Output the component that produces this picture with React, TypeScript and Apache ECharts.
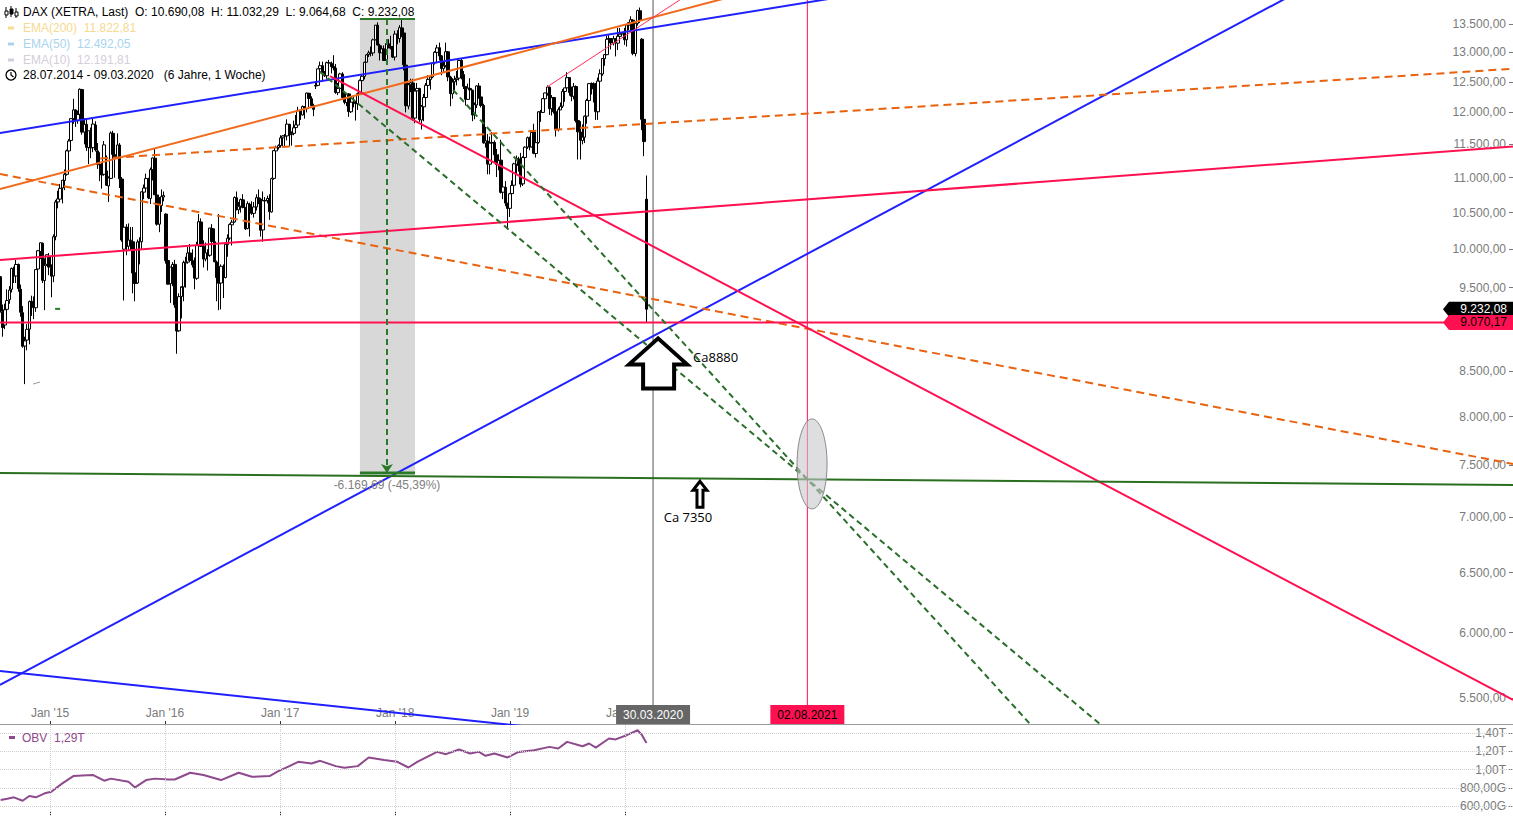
import React, { useEffect, useRef } from "react";
import * as echarts from "echarts";

type Row = [number, number, number, number]; // open, high, low, close (weekly)

const FIRST_WEEK = "2014-07-28";

const dax2014: Row[] = [
  [9640, 9650, 9190, 9210], [9200, 9290, 8900, 9009], [9040, 9300, 8990, 9225], [9230, 9480, 9160, 9340],
  [9350, 9520, 9300, 9470], [9480, 9760, 9440, 9747], [9740, 9770, 9560, 9651], [9650, 9860, 9560, 9799],
  [9800, 9810, 9450, 9490], [9480, 9540, 9140, 9195], [9190, 9270, 8770, 8788], [8790, 8900, 8355, 8850],
  [8860, 9050, 8740, 8988], [8990, 9340, 8810, 9326], [9330, 9400, 9150, 9291], [9290, 9390, 9110, 9252],
  [9250, 9740, 9200, 9732], [9740, 9990, 9700, 9980], [9970, 10090, 9870, 10087], [10080, 10090, 9560, 9594],
  [9590, 9880, 9220, 9787], [9800, 9930, 9780, 9927], [9900, 9950, 9660, 9765],
];
const dax2015: Row[] = [
  [9760, 9800, 9380, 9648], [9650, 10200, 9570, 10167], [10170, 10680, 10120, 10649], [10650, 10810, 10560, 10694],
  [10690, 10910, 10660, 10846], [10850, 10970, 10630, 10963], [10960, 11120, 10820, 11050], [11050, 11420, 11030, 11401],
  [11400, 11580, 11250, 11551], [11560, 11910, 11500, 11901], [11900, 12220, 11820, 12040], [12040, 12050, 11770, 11868],
  [11870, 12030, 11820, 11967], [11970, 12390, 11920, 12375], [12370, 12380, 11650, 11689], [11690, 11910, 11500, 11811],
  [11810, 11900, 11400, 11454], [11450, 11710, 11200, 11709], [11700, 11760, 11290, 11447], [11450, 11900, 11380, 11815],
  [11800, 11860, 11390, 11414], [11400, 11520, 11130, 11197], [11190, 11380, 10950, 11196], [11190, 11240, 10840, 11041],
  [11050, 11550, 11030, 11492], [11100, 11330, 10880, 10890], [10880, 11020, 10650, 10996], [10990, 11700, 10980, 11674],
  [11670, 11710, 11330, 11347], [11340, 11390, 11000, 11309], [11300, 11670, 11280, 11490], [11490, 11520, 10850, 10985],
  [10980, 11010, 10100, 10124], [10000, 10330, 9340, 10298], [10300, 10340, 9920, 10038], [10040, 10350, 9990, 10123],
  [10120, 10300, 9980, 10104], [10100, 10300, 9430, 9688], [9690, 9740, 9330, 9554], [9560, 10130, 9550, 10097],
  [10100, 10160, 9800, 10104], [10100, 10800, 10000, 10795], [10790, 10900, 10690, 10850], [10850, 11060, 10800, 10988],
  [10980, 11000, 10690, 10708], [10700, 11150, 10620, 11119], [11120, 11300, 10960, 11293], [11290, 11430, 10750, 10752],
  [10750, 10900, 10320, 10340], [10340, 10720, 10230, 10608], [10600, 10830, 10510, 10727], [10720, 10800, 10660, 10743],
];
const dax2016: Row[] = [
  [10480, 10490, 9810, 9849], [9850, 10100, 9540, 9545], [9550, 9770, 9310, 9765], [9760, 9830, 9520, 9798],
  [9800, 9860, 9250, 9286], [9280, 9290, 8700, 8967], [8970, 9430, 8960, 9388], [9390, 9500, 9120, 9513],
  [9510, 9850, 9330, 9824], [9820, 9900, 9500, 9831], [9830, 10030, 9810, 9950], [9950, 10070, 9830, 9851],
  [9850, 10000, 9760, 9794], [9790, 9890, 9480, 9622], [9620, 10100, 9600, 10051], [10050, 10480, 10020, 10373],
  [10370, 10420, 10030, 10039], [10040, 10120, 9760, 9870], [9870, 10090, 9840, 9952], [9950, 10000, 9720, 9916],
  [9920, 10290, 9900, 10286], [10280, 10340, 10050, 10103], [10100, 10280, 9830, 9834], [9830, 9850, 9330, 9631],
  [9640, 10480, 9220, 9557], [9560, 9800, 9230, 9776], [9770, 9800, 9370, 9630], [9630, 10090, 9620, 10067],
  [10060, 10200, 9900, 10147], [10150, 10350, 10120, 10337], [10330, 10400, 10050, 10367], [10370, 10730, 10360, 10713],
  [10710, 10800, 10530, 10544], [10540, 10650, 10480, 10588], [10590, 10700, 10500, 10684], [10680, 10760, 10560, 10573],
  [10570, 10580, 10260, 10276], [10280, 10660, 10270, 10627], [10620, 10640, 10170, 10511], [10510, 10660, 10470, 10490],
  [10490, 10650, 10430, 10580], [10580, 10760, 10530, 10711], [10710, 10830, 10620, 10696], [10690, 10710, 10170, 10257],
  [10260, 10800, 10100, 10668], [10670, 10720, 10540, 10665], [10670, 10740, 10630, 10700], [10700, 10760, 10400, 10513],
  [10510, 11000, 10500, 10986], [10990, 11410, 10970, 11404], [11400, 11480, 11370, 11450], [11450, 11500, 11420, 11481],
];
const dax2017: Row[] = [
  [11480, 11640, 11450, 11599], [11600, 11640, 11470, 11630], [11630, 11660, 11470, 11630], [11630, 11890, 11560, 11814],
  [11810, 11820, 11470, 11651], [11650, 11700, 11480, 11666], [11670, 11870, 11640, 11757], [11760, 11960, 11700, 11804],
  [11800, 12090, 11770, 12027], [12030, 12050, 11880, 11963], [11960, 12110, 11950, 12095], [12090, 12100, 11900, 12064],
  [12060, 12320, 12000, 12313], [12310, 12310, 12140, 12225], [12220, 12260, 12080, 12109], [12110, 12140, 11940, 12049],
  [12430, 12490, 12380, 12438], [12440, 12720, 12430, 12717], [12720, 12840, 12640, 12770], [12770, 12840, 12510, 12638],
  [12640, 12680, 12580, 12602], [12600, 12840, 12550, 12823], [12820, 12870, 12680, 12816], [12810, 12840, 12640, 12753],
  [12760, 12950, 12690, 12733], [12730, 12800, 12300, 12325], [12320, 12480, 12280, 12389], [12390, 12650, 12360, 12631],
  [12630, 12660, 12240, 12240], [12240, 12320, 12130, 12163], [12160, 12310, 12100, 12298], [12300, 12310, 11930, 12014],
  [12010, 12280, 11990, 12165], [12160, 12250, 12080, 12168], [12170, 12180, 11870, 12143], [12140, 12320, 12040, 12304],
  [12300, 12540, 12290, 12519], [12520, 12630, 12500, 12592], [12590, 12840, 12540, 12829], [12830, 12970, 12820, 12956],
  [12960, 13030, 12920, 12992], [12990, 13100, 12930, 12991], [12990, 13240, 12940, 13218], [13220, 13480, 13210, 13479],
  [13480, 13530, 13120, 13127], [13120, 13150, 12860, 12994], [12990, 13120, 12990, 13060], [13060, 13120, 12860, 12861],
  [12860, 13160, 12830, 13154], [13150, 13230, 13070, 13104], [13100, 13290, 13050, 13072], [13070, 13110, 12900, 12918],
];
const dax2018: Row[] = [
  [12920, 13380, 12860, 13320], [13320, 13390, 13140, 13245], [13240, 13480, 13170, 13434], [13430, 13600, 13270, 13340],
  [13340, 13340, 12690, 12785], [12780, 12780, 12000, 12107], [12100, 12480, 12050, 12452], [12450, 12550, 12330, 12483],
  [12480, 12550, 11870, 11914], [11910, 12400, 11830, 12346], [12350, 12480, 12250, 12390], [12390, 12400, 11850, 11886],
  [11880, 12120, 11730, 12097], [12090, 12300, 11860, 12241], [12240, 12480, 12220, 12442], [12440, 12610, 12360, 12540],
  [12540, 12600, 12370, 12580], [12580, 12830, 12560, 12820], [12820, 13020, 12790, 13001], [13000, 13130, 12940, 13077],
  [13080, 13170, 12860, 12938], [12940, 12950, 12610, 12724], [12720, 12850, 12650, 12767], [12770, 13170, 12740, 13011],
  [13010, 13020, 12510, 12580], [12580, 12600, 12100, 12306], [12300, 12560, 12220, 12496], [12500, 12600, 12350, 12541],
  [12540, 12680, 12440, 12562], [12560, 12880, 12520, 12860], [12860, 12890, 12540, 12616], [12620, 12680, 12380, 12424],
  [12420, 12430, 12110, 12211], [12210, 12470, 12200, 12394], [12390, 12560, 12320, 12364], [12360, 12370, 11860, 11959],
  [11960, 12160, 11890, 12124], [12120, 12440, 12070, 12431], [12430, 12480, 12220, 12247], [12250, 12390, 12080, 12112],
  [12110, 12140, 11510, 11524], [11520, 11770, 11450, 11554], [11550, 11660, 11050, 11201], [11200, 11620, 11050, 11519],
  [11520, 11690, 11420, 11529], [11530, 11560, 11230, 11341], [11340, 11430, 11010, 11193], [11190, 11350, 11110, 11257],
  [11260, 11570, 10770, 10788], [10790, 11080, 10690, 10865], [10860, 10950, 10590, 10634], [10630, 10640, 10280, 10559],
  [10560, 10780, 10440, 10767],
];
const dax2019: Row[] = [
  [10770, 10960, 10720, 10887], [10890, 11220, 10770, 11205], [11200, 11330, 11040, 11282], [11280, 11310, 11090, 11181],
  [11180, 11370, 10860, 10907], [10910, 11320, 10880, 11299], [11300, 11470, 11210, 11457], [11460, 11620, 11430, 11602],
  [11600, 11620, 11410, 11458], [11460, 11700, 11450, 11685], [11690, 11820, 11350, 11364], [11360, 11540, 11300, 11526],
  [11530, 12020, 11510, 12010], [12010, 12040, 11850, 11999], [12000, 12230, 11990, 12222], [12220, 12320, 12170, 12315],
  [12310, 12440, 12270, 12413], [12410, 12420, 11960, 12060], [12060, 12280, 11950, 12238], [12240, 12250, 11980, 12011],
  [12010, 12140, 11620, 11726], [11730, 12080, 11700, 12045], [12040, 12160, 12040, 12096], [12100, 12380, 12070, 12340],
  [12340, 12400, 12170, 12399], [12400, 12660, 12380, 12568], [12570, 12570, 12270, 12323], [12320, 12420, 12180, 12260],
  [12260, 12480, 12210, 12419], [12420, 12440, 11840, 11872], [11870, 11880, 11270, 11693], [11690, 11860, 11270, 11563],
  [11560, 11810, 11500, 11612], [11610, 11950, 11520, 11939], [11940, 12220, 11820, 12192], [12190, 12480, 12180, 12469],
  [12470, 12490, 12290, 12468], [12470, 12490, 12160, 12381], [12380, 12480, 11880, 12013], [12010, 12570, 11880, 12512],
  [12510, 12710, 12490, 12634], [12630, 12900, 12600, 12895], [12890, 12970, 12770, 12961], [12960, 13290, 12950, 13229],
  [13230, 13300, 13120, 13242], [13240, 13250, 13050, 13164], [13160, 13290, 13120, 13236], [13240, 13250, 12930, 13167],
  [13160, 13430, 13040, 13283], [13280, 13430, 13230, 13319], [13320, 13340, 13290, 13337], [13340, 13430, 13130, 13219],
];
const dax2020: Row[] = [
  [13220, 13500, 13100, 13483], [13480, 13530, 13390, 13526], [13520, 13640, 13350, 13577], [13570, 13580, 12950, 12982],
  [12980, 13530, 12930, 13514], [13510, 13760, 13470, 13744], [13740, 13800, 13520, 13579], [13230, 13250, 11720, 11890],
  [11890, 12200, 11320, 11542], [10690.08, 11032.29, 9064.68, 9232.08],
];

// OBV (in trillions), [week index from FIRST_WEEK, value]
const obvPoints: [number, number][] = [
  [0, 0.666], [3, 0.68], [6, 0.695], [10, 0.658], [13, 0.709], [16, 0.695], [20, 0.739], [23, 0.756],
  [28, 0.848], [33, 0.928], [37, 0.935], [42, 0.939], [47, 0.877], [50, 0.9], [58, 0.866], [61, 0.804],
  [66, 0.884], [70, 0.9], [76, 0.891], [79, 0.89], [86, 0.964], [92, 0.939], [100, 0.884], [108, 0.964],
  [114, 0.92], [122, 0.928], [126, 0.983], [131, 1.037], [135, 1.084], [141, 1.066], [145, 1.095], [152, 1.037],
  [156, 1.019], [162, 1.037], [167, 1.132], [174, 1.103], [180, 1.084], [185, 1.022], [189, 1.084], [198, 1.193],
  [202, 1.168], [208, 1.219], [213, 1.175], [217, 1.193], [220, 1.15], [224, 1.175], [230, 1.132], [235, 1.193],
  [242, 1.212], [249, 1.248], [253, 1.23], [257, 1.303], [264, 1.255], [267, 1.285], [270, 1.24], [276, 1.34],
  [279, 1.33], [284, 1.376], [289, 1.43], [291, 1.376], [293, 1.29],
];

const priceTicks = [5500, 6000, 6500, 7000, 7500, 8000, 8500, 9500, 10000, 10500, 11000, 11500, 12000, 12500, 13000, 13500];
const obvTicks = [0.6, 0.8, 1.0, 1.2, 1.4];
const yearTicks = ["2015-01-01", "2016-01-01", "2017-01-01", "2018-01-01", "2019-01-01", "2020-01-01"];

const X_MIN = "2014-07-26";
const X_MAX = "2027-09-21";
const Y_MIN = 5312;
const Y_MAX = 13939;
const OBV_MIN = 0.4904;
const OBV_MAX = 1.4877;

type Trend = { color: string; width: number; dash?: number[]; a: [string, number]; b: [string, number] };
const trendLines: Trend[] = [
  { color: "#2020ff", width: 2, a: ["2014-07-26", 11675], b: ["2023-04-06", 14484] },
  { color: "#2020ff", width: 2, a: ["2014-07-26", 5596], b: ["2025-11-13", 14110] },
  { color: "#2020ff", width: 2, a: ["2014-07-26", 5701], b: ["2019-10-13", 5240] },
  { color: "#f26b1d", width: 2, a: ["2014-07-26", 10836], b: ["2021-07-10", 14342] },
  { color: "#e8620f", width: 2, dash: [8, 5], a: ["2015-06-09", 11284], b: ["2027-09-21", 12718] },
  { color: "#e8620f", width: 2, dash: [8, 5], a: ["2014-07-26", 11054], b: ["2027-09-21", 7512] },
  { color: "#ff1050", width: 2, a: ["2014-07-26", 9070.17], b: ["2027-09-21", 9070.17] },
  { color: "#ff1050", width: 2, a: ["2014-07-26", 9858], b: ["2027-09-21", 11467] },
  { color: "#ff1050", width: 2, a: ["2017-06-08", 12596], b: ["2027-09-21", 5485] },
  { color: "#ff2a5a", width: 1, a: ["2019-04-28", 12413], b: ["2020-07-19", 14041] },
  { color: "#2b6e2b", width: 2, dash: [6, 4], a: ["2017-05-07", 12670], b: ["2024-03-20", 5253] },
  { color: "#2b6e2b", width: 2, dash: [6, 4], a: ["2018-07-04", 12364], b: ["2023-08-11", 5235] },
  { color: "#2a6f1f", width: 2, a: ["2014-07-26", 7423], b: ["2027-09-21", 7305] },
  { color: "#2a7a2a", width: 2, a: ["2015-01-17", 9236], b: ["2015-02-02", 9236] },
  { color: "#999999", width: 1, a: ["2014-11-08", 8356], b: ["2014-11-30", 8378] },
];

const MEASURE_START = "2017-09-11";
const MEASURE_END = "2018-03-05";
const MEASURE_MID = "2017-12-06";
const MEASURE_HIGH = 13592.59;
const MEASURE_LOW = 7422.9;

const CROSS_DATE = "2020-03-30";
const TARGET_DATE = "2021-08-02";
const LAST_CLOSE = 9232.08;
const SUPPORT = 9070.17;
const BIG_ARROW: [string, number] = ["2020-04-15", 8880];
const SMALL_ARROW: [string, number] = ["2020-08-26", 7350];
const ELLIPSE_C: [string, number] = ["2021-08-17", 7512];
const ELLIPSE_TOP = 7976;
const ELLIPSE_BOTTOM = 7075;

const FONT = "'Liberation Sans', Arial, sans-serif";
const FONT12 = `12px ${FONT}`;

const ts = (s: string) => {
  const [y, m, d] = s.split("-").map(Number);
  return Date.UTC(y, m - 1, d);
};
const WEEK_MS = 7 * 86400000;
const de = (v: number, dec = 2) => {
  const s = v.toFixed(dec);
  const [i, f] = s.split(".");
  return i.replace(/\B(?=(\d{3})+(?!\d))/g, ".") + (f ? "," + f : "");
};
const fmtDate = (s: string) => {
  const [y, m, d] = s.split("-");
  return `${d}.${m}.${y}`;
};

export default function App() {
  const ref = useRef<HTMLDivElement>(null);

  useEffect(() => {
    if (!ref.current) return;
    const chart = echarts.init(ref.current, null, { renderer: "svg" });
    const t0 = ts(FIRST_WEEK);
    const weeks: Row[] = [...dax2014, ...dax2015, ...dax2016, ...dax2017, ...dax2018, ...dax2019, ...dax2020];
    const candles = weeks.map((r, i) => [t0 + i * WEEK_MS, r[0], r[3], r[2], r[1]]);
    const obv = obvPoints.map(([w, v]) => [t0 + w * WEEK_MS, v]);
    const yearTs = yearTicks.map(ts);

    const seg = (data: number[][], color: string, width: number, type: any = "solid", z = 3) => ({
      type: "line",
      xAxisIndex: 0,
      yAxisIndex: 0,
      silent: true,
      symbol: "none",
      z,
      data,
      lineStyle: { color, width, type },
    });

    const trendSeries = trendLines.map((l) =>
      seg(
        [
          [ts(l.a[0]), l.a[1]],
          [ts(l.b[0]), l.b[1]],
        ],
        l.color,
        l.width,
        l.dash || "solid"
      )
    );

    const diff = MEASURE_LOW - MEASURE_HIGH;
    const pct = (diff / MEASURE_HIGH) * 100;
    const measureLabel = `${de(diff)} (${de(pct)}%)`;

    const option: any = {
      animation: false,
      backgroundColor: "#ffffff",
      grid: [
        { left: 0, right: 0, top: 0, height: 724 },
        { left: 0, right: 0, top: 725, height: 91 },
      ],
      xAxis: [
        {
          type: "value",
          gridIndex: 0,
          min: ts(X_MIN),
          max: ts(X_MAX),
          axisLine: { show: true, lineStyle: { color: "#9a9a9a", width: 1 } },
          axisTick: { show: true, inside: true, length: 3, customValues: yearTs, lineStyle: { color: "#333" } },
          axisLabel: {
            show: true,
            inside: true,
            customValues: yearTs,
            formatter: (v: number) => "Jan '" + String(new Date(v).getUTCFullYear()).slice(2),
            color: "#7a7a7a",
            fontSize: 12,
            fontFamily: FONT,
            margin: 5,
          },
          splitLine: { show: false },
        },
        {
          type: "value",
          gridIndex: 1,
          min: ts(X_MIN),
          max: ts(X_MAX),
          axisLine: { show: false },
          axisTick: { show: true, inside: true, length: 4, customValues: yearTs, lineStyle: { color: "#333" } },
          axisLabel: { show: false },
          splitLine: { show: false },
        },
      ],
      yAxis: [
        {
          type: "log",
          logBase: 10,
          gridIndex: 0,
          position: "right",
          min: Y_MIN,
          max: Y_MAX,
          axisLine: { show: false },
          axisTick: { show: true, inside: true, length: 4, customValues: priceTicks, lineStyle: { color: "#777" } },
          axisLabel: {
            show: true,
            inside: true,
            customValues: priceTicks,
            formatter: (v: number) => de(v, 2),
            color: "#7a7a7a",
            fontSize: 12,
            fontFamily: FONT,
            margin: 7,
          },
          splitLine: { show: false },
        },
        {
          type: "value",
          gridIndex: 1,
          position: "right",
          min: OBV_MIN,
          max: OBV_MAX,
          axisLine: { show: false },
          axisTick: { show: true, inside: true, length: 4, customValues: obvTicks, lineStyle: { color: "#777" } },
          axisLabel: {
            show: true,
            inside: true,
            customValues: obvTicks,
            formatter: (v: number) => (v >= 1 ? de(v, 2) + "T" : de(v * 1000, 2) + "G"),
            color: "#7a7a7a",
            fontSize: 12,
            fontFamily: FONT,
            margin: 7,
          },
          splitLine: { show: false },
        },
      ],
      series: [
        {
          type: "candlestick",
          xAxisIndex: 0,
          yAxisIndex: 0,
          data: candles,
          encode: { x: 0, y: [1, 2, 3, 4] },
          barWidth: 3,
          silent: true,
          z: 2,
          itemStyle: { color: "#ffffff", color0: "#000000", borderColor: "#000000", borderColor0: "#000000", borderWidth: 1 },
          markArea: {
            silent: true,
            itemStyle: { color: "rgba(190,190,190,0.6)" },
            data: [[{ xAxis: ts(MEASURE_START), yAxis: MEASURE_HIGH }, { xAxis: ts(MEASURE_END), yAxis: MEASURE_LOW }]],
          },
        },
        seg([[ts(CROSS_DATE), Y_MIN], [ts(CROSS_DATE), Y_MAX]], "#555555", 1, "solid", 2),
        seg([[ts(TARGET_DATE), Y_MIN], [ts(TARGET_DATE), Y_MAX]], "#ff1050", 1, "solid", 2),
        ...trendSeries,
        {
          ...seg([[ts(MEASURE_START), MEASURE_HIGH], [ts(MEASURE_END), MEASURE_HIGH]], "#2a7a2a", 2, "solid", 4),
          markLine: {
            silent: true,
            symbol: ["none", "arrow"],
            symbolSize: 9,
            lineStyle: { color: "#2a7a2a", width: 2, type: [6, 4] },
            label: { show: true, position: "end", formatter: measureLabel, color: "#808080", fontSize: 12, fontFamily: FONT, distance: 6 },
            data: [[{ coord: [ts(MEASURE_MID), MEASURE_HIGH] }, { coord: [ts(MEASURE_MID), MEASURE_LOW] }]],
          },
        },
        seg([[ts(MEASURE_START), MEASURE_LOW], [ts(MEASURE_END), MEASURE_LOW]], "#2a7a2a", 3, "solid", 4),
        {
          type: "line",
          xAxisIndex: 1,
          yAxisIndex: 1,
          silent: true,
          symbol: "none",
          data: obv,
          lineStyle: { color: "#8e4a8c", width: 2 },
          z: 3,
          markLine: {
            silent: true,
            symbol: "none",
            label: { show: false },
            lineStyle: { color: "#cfcfcf", width: 1, type: "dotted" },
            data: [...obvTicks.map((v) => ({ yAxis: v })), ...yearTs.map((t) => ({ xAxis: t }))],
          },
        },
      ],
    };
    chart.setOption(option);

    const px = (t: number, v: number) => chart.convertToPixel({ gridIndex: 0 }, [t, v]) as number[];
    const right = px(ts(X_MAX), SUPPORT)[0];
    const bottom = px(ts(X_MIN), Y_MIN)[1];

    const text = (x: number, y: number, s: string, fill: string, align = "left", font = FONT12) => ({
      type: "text",
      z: 100,
      style: { x, y, text: s, fill, font, align, textAlign: align, verticalAlign: "middle", textVerticalAlign: "middle" },
    });

    const g: any[] = [];
    g.push({ type: "line", z: 100, shape: { x1: 6, y1: 7, x2: 6, y2: 18 }, style: { stroke: "#000", lineWidth: 1 } });
    g.push({ type: "rect", z: 100, shape: { x: 5, y: 11, width: 3, height: 4 }, style: { fill: "#fff", stroke: "#000", lineWidth: 1 } });
    g.push({ type: "line", z: 100, shape: { x1: 11, y1: 6, x2: 11, y2: 17 }, style: { stroke: "#000", lineWidth: 1 } });
    g.push({ type: "rect", z: 100, shape: { x: 10, y: 9, width: 3, height: 5 }, style: { fill: "#000", stroke: "#000", lineWidth: 1 } });
    g.push({ type: "line", z: 100, shape: { x1: 16, y1: 8, x2: 16, y2: 18 }, style: { stroke: "#000", lineWidth: 1 } });
    g.push({ type: "rect", z: 100, shape: { x: 15, y: 12, width: 3, height: 4 }, style: { fill: "#fff", stroke: "#000", lineWidth: 1 } });
    const last = weeks[weeks.length - 1];
    g.push(
      text(23, 12, `DAX (XETRA, Last)  O: ${de(last[0])}  H: ${de(last[1])}  L: ${de(last[2])}  C: ${de(last[3])}`, "#000")
    );
    const emas: [string, string, number][] = [
      ["EMA(200)", "#f6da8e", 11822.81],
      ["EMA(50)", "#a9d4ef", 12492.05],
      ["EMA(10)", "#d6cdda", 12191.81],
    ];
    emas.forEach(([n, c, v], i) => {
      const y = 28 + i * 16;
      g.push({ type: "rect", z: 100, shape: { x: 8, y: y - 1.5, width: 6, height: 3 }, style: { fill: c } });
      g.push(text(23, y, `${n}  ${de(v)}`, c));
    });
    g.push({ type: "circle", z: 100, shape: { cx: 11, cy: 75, r: 5 }, style: { fill: "none", stroke: "#000", lineWidth: 1.3 } });
    g.push({ type: "polyline", z: 100, shape: { points: [[11, 72], [11, 75], [13.5, 77]] }, style: { fill: "none", stroke: "#000", lineWidth: 1.2 } });
    g.push(text(23, 75, "28.07.2014 - 09.03.2020   (6 Jahre, 1 Woche)", "#000"));

    g.push({ type: "rect", z: 100, shape: { x: 9, y: 736, width: 6, height: 3 }, style: { fill: "#8e4a8c" } });
    g.push(text(22, 737.5, "OBV  1,29T", "#8e4a8c"));

    const [ax, ay] = px(ts(BIG_ARROW[0]), BIG_ARROW[1]);
    g.push({
      type: "polygon",
      z: 100,
      shape: { points: [[ax, ay], [ax + 29, ay + 26], [ax + 16, ay + 26], [ax + 16, ay + 50], [ax - 15, ay + 50], [ax - 15, ay + 26], [ax - 29, ay + 26]] },
      style: { fill: "#ffffff", stroke: "#000000", lineWidth: 4, lineJoin: "miter" },
    });
    g.push(text(ax + 35, ay + 19, "Ca" + BIG_ARROW[1], "#000", "left", `13px 'Open Sans', 'DejaVu Sans', sans-serif`));

    const [sx, sy] = px(ts(SMALL_ARROW[0]), SMALL_ARROW[1]);
    g.push({
      type: "polygon",
      z: 100,
      shape: { points: [[sx, sy + 1], [sx + 7, sy + 10], [sx + 3, sy + 10], [sx + 3, sy + 27], [sx - 3, sy + 27], [sx - 3, sy + 10], [sx - 7, sy + 10]] },
      style: { fill: "#ffffff", stroke: "#000000", lineWidth: 3, lineJoin: "miter" },
    });
    g.push(text(sx - 12, sy + 37, "Ca " + SMALL_ARROW[1], "#000", "center", `13px 'Open Sans', 'DejaVu Sans', sans-serif`));

    const [ex] = px(ts(ELLIPSE_C[0]), ELLIPSE_C[1]);
    const eTop = px(ts(ELLIPSE_C[0]), ELLIPSE_TOP)[1];
    const eBot = px(ts(ELLIPSE_C[0]), ELLIPSE_BOTTOM)[1];
    g.push({
      type: "ellipse",
      z: 100,
      shape: { cx: ex, cy: (eTop + eBot) / 2, rx: 15, ry: (eBot - eTop) / 2 },
      style: { fill: "rgba(200,200,205,0.6)", stroke: "#8a8a8a", lineWidth: 1 },
    });

    const tag = (dateStr: string, bg: string, fg: string) => {
      const x = px(ts(dateStr), SUPPORT)[0];
      g.push({ type: "rect", z: 101, shape: { x: x - 37, y: bottom - 19, width: 74, height: 19 }, style: { fill: bg } });
      g.push({ ...text(x, bottom - 9.5, fmtDate(dateStr), fg, "center"), z: 102 });
    };
    tag(CROSS_DATE, "#666666", "#ffffff");
    tag(TARGET_DATE, "#ff1050", "#000000");

    const priceTag = (v: number, bg: string, fg: string) => {
      const y = px(ts(X_MAX), v)[1];
      g.push({
        type: "polygon",
        z: 101,
        shape: { points: [[right - 70, y], [right - 64, y - 7.5], [right, y - 7.5], [right, y + 7.5], [right - 64, y + 7.5]] },
        style: { fill: bg },
      });
      g.push({ ...text(right - 6, y, de(v), fg, "right"), z: 102 });
    };
    priceTag(LAST_CLOSE, "#000000", "#ffffff");
    priceTag(SUPPORT, "#ff1050", "#000000");

    chart.setOption({ graphic: { elements: g } });

    return () => chart.dispose();
  }, []);

  return (
    <div
      ref={ref}
      style={{ position: "fixed", left: 0, top: 0, width: 1513, height: 816, background: "#fff" }}
    />
  );
}
